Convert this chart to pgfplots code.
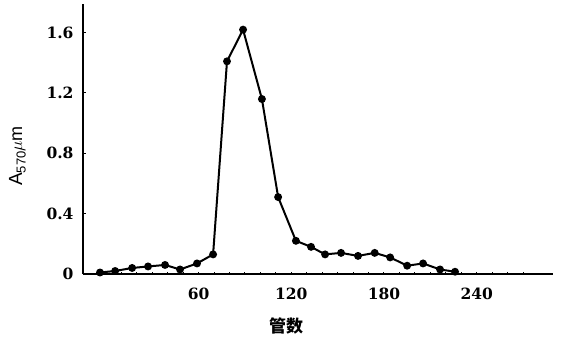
\documentclass[border=0pt]{standalone}
\usepackage{pgfplots}
\pgfplotsset{compat=1.18}
\usepackage{fontspec}
\setmainfont{DejaVu Serif}
\newfontfamily\cjk{Noto Sans CJK SC}
\newfontfamily\lsans{Liberation Sans}
\begin{document}
\begin{tikzpicture}[x=1pt,y=1pt]
\begin{axis}[
  at={(83pt,64pt)}, anchor=south west,
  scale only axis, width=470pt, height=270pt,
  xmin=-14.8, xmax=289.4, ymin=0, ymax=1.79,
  axis lines*=left,
  axis line style={line width=1.9pt},
  xtick={60,120,180,240},
  minor xtick={10,20,...,270},
  ytick={0,0.4,0.8,1.2,1.6},
  yticklabels={0,0.4,0.8,1.2,1.6},
  tick align=inside,
  major tick length=2.5pt, minor tick length=2.5pt,
  tick style={black, line width=1pt},
  /pgf/number format/assume math mode=true,
  ticklabel style={font=\fontsize{15.5}{15.5}\selectfont\bfseries},
  yticklabel style={xshift=-6pt},
  xticklabel style={yshift=-10pt},
  xlabel={\cjk\bfseries 管数},
  every axis x label/.style={at={(rel axis cs:0.432,0)}, yshift=-52pt, anchor=center,
     font=\fontsize{17}{17}\selectfont},
  ylabel={\lsans A\raisebox{-3.5pt}{\fontsize{13}{13}\selectfont 570}{\fontsize{18}{18}\selectfont$\mu$m}},
  every axis y label/.style={at={(rel axis cs:0,0.437)}, xshift=-65.5pt, rotate=90, anchor=center,
     font=\fontsize{19}{19}\selectfont},
  clip=false,
]
\addplot[black, line width=2pt, mark=*, mark size=2.9pt] coordinates {
(-3.8,0.01) (6,0.02) (17,0.04) (27.3,0.05) (38.3,0.06) (48,0.03) (59,0.07)
(69.4,0.13) (78.4,1.41) (88.8,1.62) (101,1.16) (111.5,0.51) (123,0.22)
(132.8,0.18) (141.9,0.13) (152.2,0.14) (163.2,0.12) (174,0.14) (184,0.11)
(195,0.055) (205.3,0.07) (216.3,0.03) (226,0.015)
};
\end{axis}
\pgfresetboundingbox
\path (0,0) rectangle (562,338);
\end{tikzpicture}
\end{document}
